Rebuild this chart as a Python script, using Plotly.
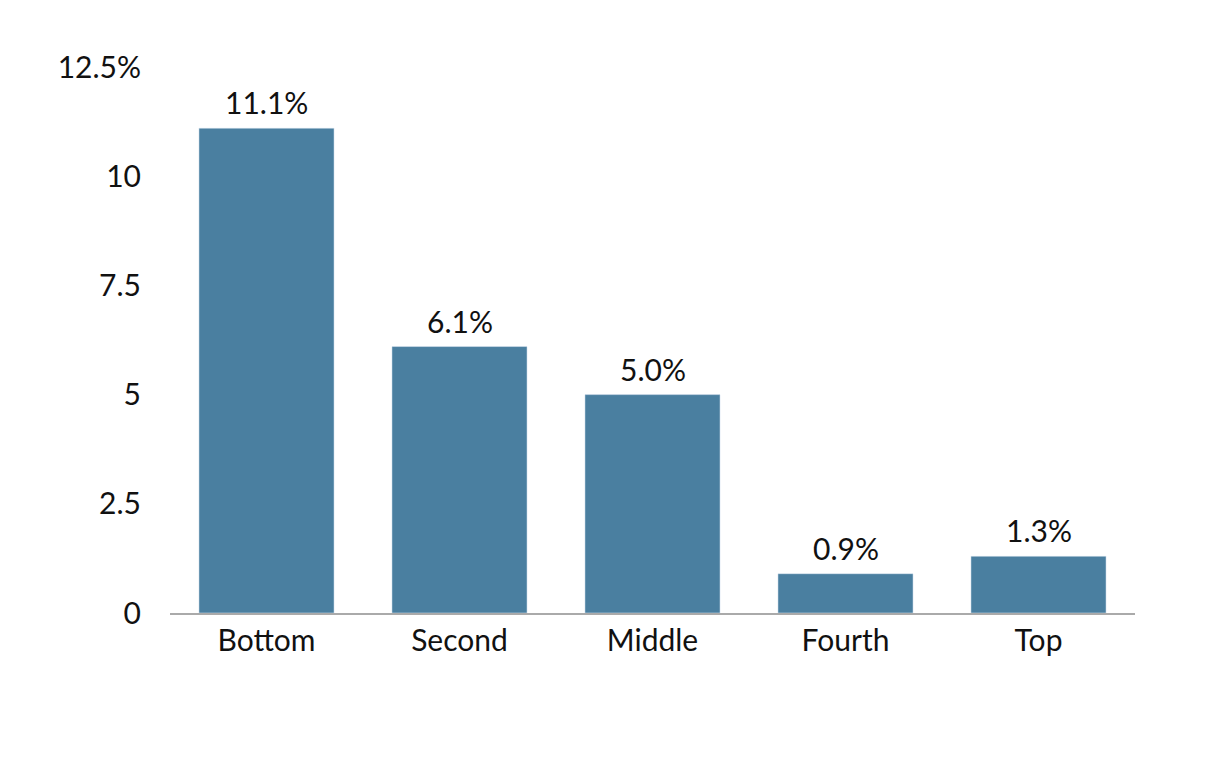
import plotly.graph_objects as go

categories = ["Bottom", "Second", "Middle", "Fourth", "Top"]
values = [11.1, 6.1, 5.0, 0.9, 1.3]
tick_vals = [0, 2.5, 5, 7.5, 10, 12.5]
tick_text = ["0", "2.5", "5", "7.5", "10", "12.5%"]

bar_color = "#4A7FA0"

fig = go.Figure(go.Bar(
    x=categories,
    y=values,
    marker_color=bar_color,
    cliponaxis=False,
))

# value labels above the bars
for cat, v in zip(categories, values):
    fig.add_annotation(x=cat, y=v, text=f"{v:.1f}%", showarrow=False,
                       yanchor="bottom", yshift=6,
                       font=dict(size=30, color="#111111"))

fig.update_layout(
    width=1216,
    height=761,
    margin=dict(l=162, r=89, t=59, b=156),
    plot_bgcolor="white",
    paper_bgcolor="white",
    font=dict(family="Lato, Open Sans, sans-serif", size=30, color="#111111"),
    bargap=0.3,
    showlegend=False,
)
fig.update_yaxes(
    range=[0, 12.5],
    tickvals=tick_vals,
    ticktext=tick_text,
    showgrid=False,
    zeroline=False,
    showline=False,
    ticks="",
    ticklabelstandoff=28,
)
fig.update_xaxes(
    showline=True,
    linecolor="#AAAAAA",
    linewidth=2,
    showgrid=False,
    ticks="",
    ticklabelstandoff=0,
)

fig.write_html("out.html")
